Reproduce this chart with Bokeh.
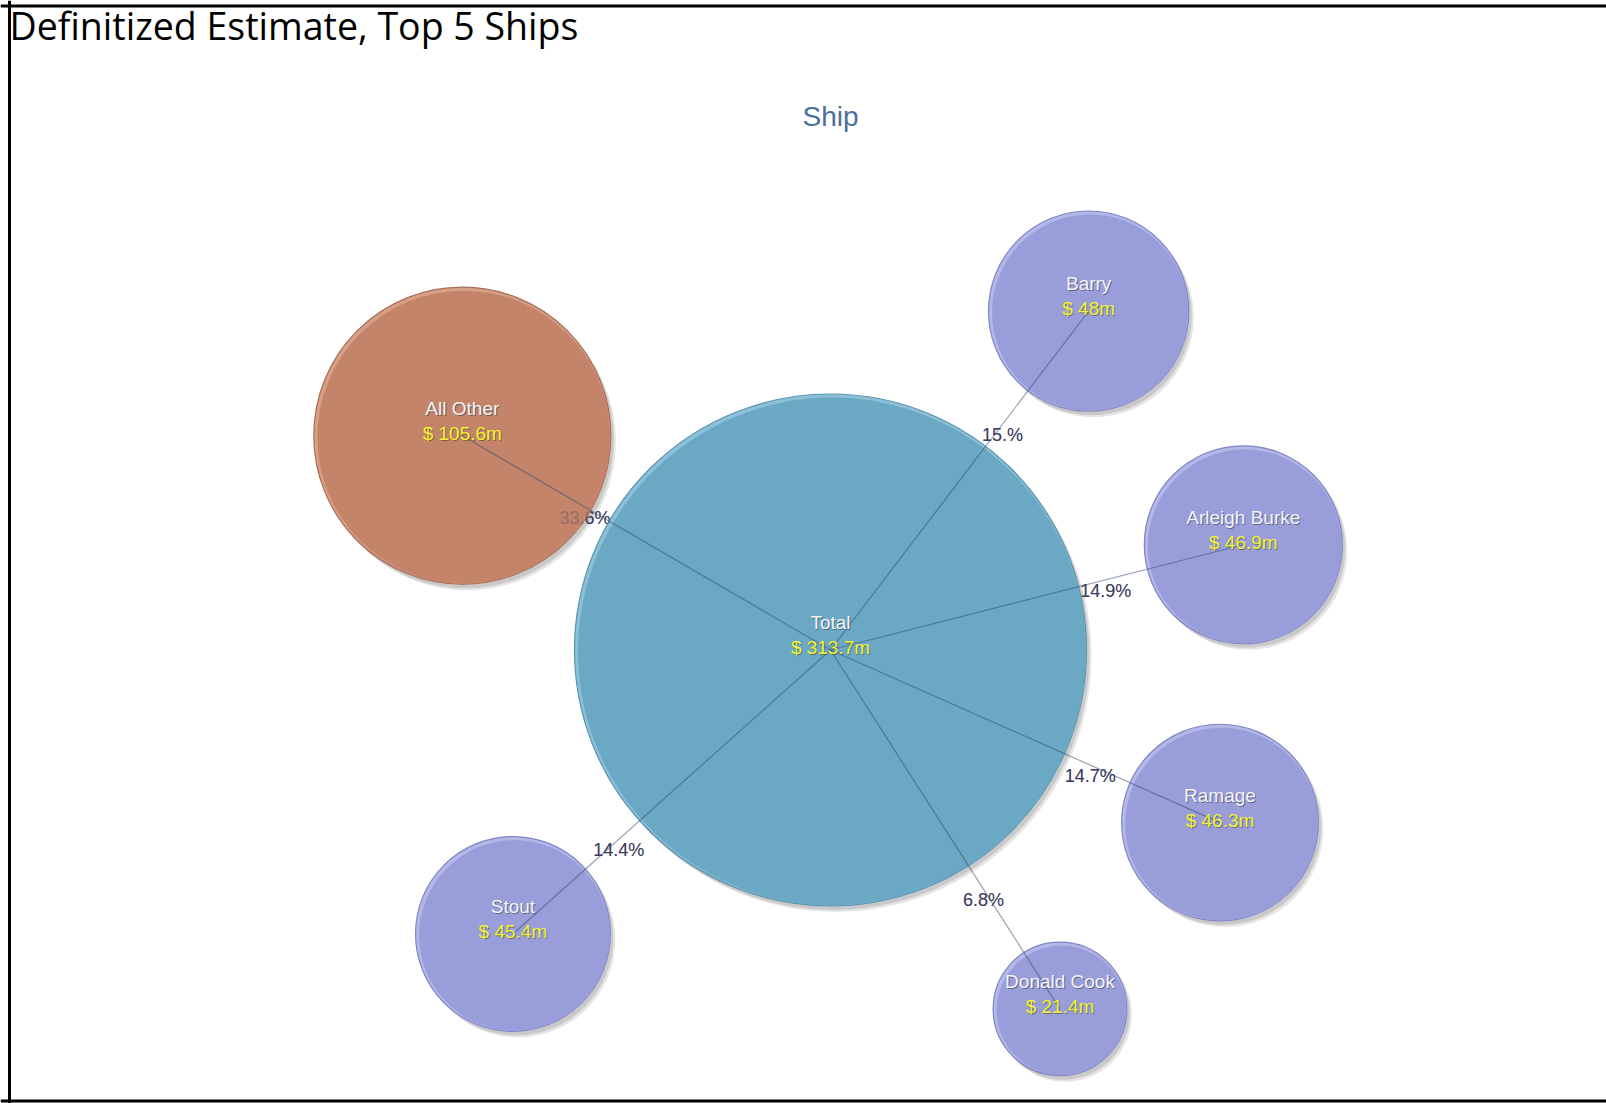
import math
from bokeh.plotting import figure
from bokeh.models import ColumnDataSource, Range1d, Span, Label
from bokeh.core.properties import value
from bokeh.embed import file_html
from bokeh.resources import INLINE

# ---------------- data ----------------
total_name = "Total"
total_value = 313.7
ship_names = ["All Other", "Barry", "Arleigh Burke", "Ramage", "Stout", "Donald Cook"]
ship_values = [105.6, 48.0, 46.9, 46.3, 45.4, 21.4]
share_labels = ["33.6%", "15.%", "14.9%", "14.7%", "14.4%", "6.8%"]

# ---------------- layout (force-layout angles, screen degrees) ----------------
node_angles = [-149.8, -52.7, -14.3, 23.9, 138.2, 57.4]
LINK = 426.0
CX, CY = 830.0, 649.5
R_TOTAL = 256.0

W, H = 1606, 1103
FONT = "Liberation Sans"


def radius(v):
    return R_TOTAL * math.sqrt(v / total_value)


def money(v):
    return f"$ {v:g}m"


p = figure(width=W, height=H, x_range=Range1d(0, W), y_range=Range1d(H, 0),
           x_axis_type=None, y_axis_type=None, toolbar_location=None,
           output_backend="svg", min_border=0)
p.grid.visible = False
p.outline_line_color = None
p.background_fill_color = "white"
p.border_fill_color = "white"

# node table
xs = [CX]
ys = [CY]
rs = [radius(total_value)]
fills = ["#6ba8c4"]
rims = ["#8cc0d8"]
edges = ["#5a93b0"]
names = [total_name]
vals = [money(total_value)]
for nm, v, a in zip(ship_names, ship_values, node_angles):
    t = math.radians(a)
    xs.append(CX + LINK * math.cos(t))
    ys.append(CY + LINK * math.sin(t))
    rs.append(radius(v))
    names.append(nm)
    vals.append(money(v))
    if nm == "All Other":
        fills.append("#c4846a"); rims.append("#d69f86"); edges.append("#a86d56")
    else:
        fills.append("#999edb"); rims.append("#b4b8e8"); edges.append("#7f84c6")

TY = -2.5  # small vertical correction of glyph text
nodes = ColumnDataSource(dict(
    x=xs, y=ys, r=rs, fill=fills, rim=rims, edge=edges, name=names, val=vals,
    sx1=[x + 5 for x in xs], sy1=[y + 6 for y in ys],
    sx2=[x + 3 for x in xs], sy2=[y + 4 for y in ys],
    ix=[x + 1.5 for x in xs], iy=[y + 1.5 for y in ys], ir=[r - 2 for r in rs],
    nx_sh=[x + 1 for x in xs], ny_sh=[y - 25 + 1 + TY for y in ys], ny=[y - 25 + TY for y in ys],
    vy=[y + TY for y in ys], vy_sh=[y + 1 + TY for y in ys], vx_sh=[x + 1 for x in xs],
))

# percent labels at the edge of the total circle, along each link
lx, ly = [], []
for a in node_angles:
    t = math.radians(a)
    lx.append(CX + (R_TOTAL + 28) * math.cos(t))
    ly.append(CY + (R_TOTAL + 28) * math.sin(t) + 1)
labels = ColumnDataSource(dict(x=lx, y=ly, text=share_labels))

# links
links = ColumnDataSource(dict(x0=[CX] * len(ship_names), y0=[CY] * len(ship_names),
                              x1=xs[1:], y1=ys[1:]))

# shadows
p.circle("sx1", "sy1", radius="r", source=nodes, fill_color="black", fill_alpha=0.10, line_color=None)
p.circle("sx2", "sy2", radius="r", source=nodes, fill_color="black", fill_alpha=0.12, line_color=None)

# percent labels (beneath circles, like the reference)
p.text("x", "y", text="text", source=labels, text_font=value(FONT), text_font_size="18px",
       text_color="#3c3c5e", text_align="center", text_baseline="top")

# circles with a lighter top-left rim
p.circle("x", "y", radius="r", source=nodes, fill_color="rim", line_color="edge", line_width=1.2)
p.circle("ix", "iy", radius="ir", source=nodes, fill_color="fill", line_color=None)

# links drawn over the bubbles
p.segment("x0", "y0", "x1", "y1", source=links, line_color="#2b4a6e", line_alpha=0.5, line_width=1.2)

# percent labels faintly visible through the bubbles
p.text("x", "y", text="text", source=labels, text_font=value(FONT), text_font_size="18px",
       text_color="#3c3c5e", text_alpha=0.35, text_align="center", text_baseline="top")

# node texts with a soft shadow
p.text("nx_sh", "ny_sh", text="name", source=nodes, text_font=value(FONT), text_font_size="19px",
       text_color="#333333", text_alpha=0.55, text_align="center", text_baseline="middle")
p.text("x", "ny", text="name", source=nodes, text_font=value(FONT), text_font_size="19px",
       text_color="#f4f4f8", text_align="center", text_baseline="middle")
p.text("vx_sh", "vy_sh", text="val", source=nodes, text_font=value(FONT), text_font_size="19px",
       text_color="#444400", text_alpha=0.55, text_align="center", text_baseline="middle")
p.text("x", "vy", text="val", source=nodes, text_font=value(FONT), text_font_size="19px",
       text_color="#f2f23a", text_align="center", text_baseline="middle")

# chart subtitle and sheet title
p.add_layout(Label(x=CX, y=116, text="Ship", text_font=FONT, text_font_size="28px",
                   text_color="#4a6e9e", text_align="center", text_baseline="middle"))
p.add_layout(Label(x=9, y=25, text="Definitized Estimate, Top 5 Ships", text_font="Open Sans",
                   text_font_size="37.5px", text_color="black", text_align="left",
                   text_baseline="middle"))

# frame
p.add_layout(Span(location=9, dimension="height", line_color="black", line_width=3))
p.add_layout(Span(location=5.5, dimension="width", line_color="black", line_width=3))
p.add_layout(Span(location=1100.5, dimension="width", line_color="black", line_width=3))

open("out.html", "w").write(file_html(p, INLINE))
